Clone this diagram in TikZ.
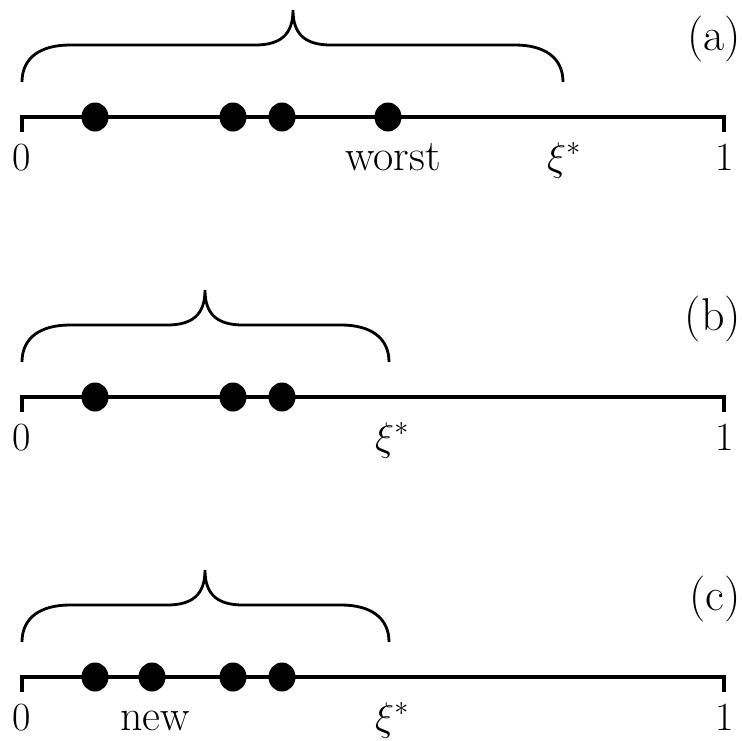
\RequirePackage{fix-cm}
\documentclass[tikz,border=0pt]{standalone}
\usetikzlibrary{shapes.geometric}
\begin{document}
\begin{tikzpicture}[x=1pt,y=-1pt,
  axisline/.style={line width=3.4pt, line cap=butt, line join=miter},
  bracel/.style={line width=2.8pt, line cap=butt},
  dot/.style={ellipse, fill=black, inner sep=0pt, minimum width=27pt, minimum height=29pt},
  lab/.style={anchor=base, inner sep=0pt, font=\fontsize{40}{44}\selectfont},
  word/.style={anchor=base, inner sep=0pt, font=\fontsize{44}{48}\selectfont},
  tag/.style={anchor=base east, inner sep=0pt, font=\fontsize{46}{50}\selectfont}]
\useasboundingbox (0,0) rectangle (742,740);

% ---------- panel (a) ----------
\coordinate (aL) at (22,117);
\coordinate (aR) at (724,117);
\draw[axisline] ([yshift=-15pt]aL) -- (aL) -- (aR) -- ([yshift=-15pt]aR);
\node[dot] (ad1) at (95,117) {};
\node[dot] (ad2) at (233,117) {};
\node[dot] (ad3) at (282,117) {};
\node[dot] (ad4) at (388,117) {};
\node[lab] (a0) at (22,170) {0};
\node[word] (aw) at (393,170) {worst};
\node[lab] (axi) at (564,170) {$\xi^*$};
\node[lab] (a1) at (725,170) {1};
\node[tag] (atag) at (741,50) {(a)};
\draw[bracel] (22,82) .. controls (22,58) and (40,45) .. (70,45) -- (255,45)
  .. controls (280,45) and (293,35) .. (293,10)
  .. controls (293,35) and (306,45) .. (331,45) -- (515,45)
  .. controls (545,45) and (563,58) .. (563,82);

% ---------- panel (b) ----------
\coordinate (bL) at (22,397);
\coordinate (bR) at (724,397);
\draw[axisline] ([yshift=-15pt]bL) -- (bL) -- (bR) -- ([yshift=-15pt]bR);
\node[dot] (bd1) at (95,397) {};
\node[dot] (bd2) at (233,397) {};
\node[dot] (bd3) at (282,397) {};
\node[lab] (b0) at (22,450) {0};
\node[lab] (bxi) at (392,450) {$\xi^*$};
\node[lab] (b1) at (725,450) {1};
\node[tag] (btag) at (741,330) {(b)};
\draw[bracel] (22,362) .. controls (22,338) and (40,325) .. (70,325) -- (167,325)
  .. controls (192,325) and (205,315) .. (205,290)
  .. controls (205,315) and (218,325) .. (243,325) -- (341,325)
  .. controls (371,325) and (389,338) .. (389,362);

% ---------- panel (c) ----------
\coordinate (cL) at (22,677);
\coordinate (cR) at (724,677);
\draw[axisline] ([yshift=-15pt]cL) -- (cL) -- (cR) -- ([yshift=-15pt]cR);
\node[dot] (cd1) at (95,677) {};
\node[dot] (cd2) at (152,677) {};
\node[dot] (cd3) at (233,677) {};
\node[dot] (cd4) at (282,677) {};
\node[lab] (c0) at (22,730) {0};
\node[word] (cw) at (155,730) {new};
\node[lab] (cxi) at (392,730) {$\xi^*$};
\node[lab] (c1) at (725,730) {1};
\node[tag] (ctag) at (741,610) {(c)};
\draw[bracel] (22,642) .. controls (22,618) and (40,605) .. (70,605) -- (167,605)
  .. controls (192,605) and (205,595) .. (205,570)
  .. controls (205,595) and (218,605) .. (243,605) -- (341,605)
  .. controls (371,605) and (389,618) .. (389,642);
\end{tikzpicture}
\end{document}
